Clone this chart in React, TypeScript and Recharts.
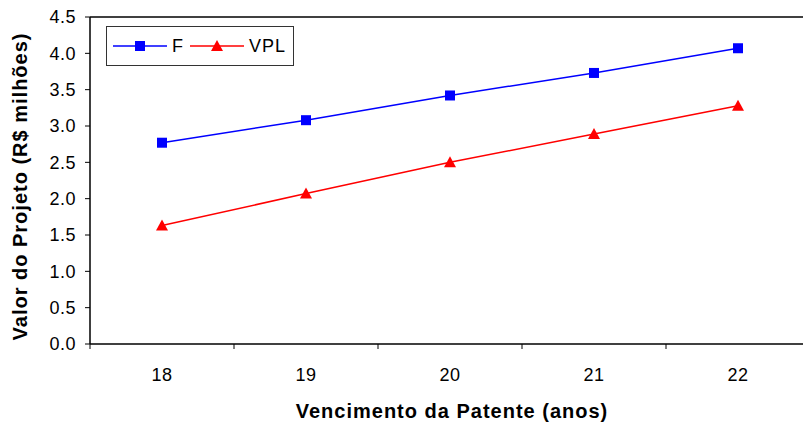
import React from 'react';
import { LineChart, Line, XAxis, YAxis, ReferenceLine } from 'recharts';

// Vencimento da patente (anos) e valores do projeto (R$ milhões)
const anos = [18, 19, 20, 21, 22];
const valoresF = [2.77, 3.08, 3.42, 3.73, 4.07];
const valoresVPL = [1.63, 2.07, 2.5, 2.89, 3.28];
const yTicks = [0, 0.5, 1, 1.5, 2, 2.5, 3, 3.5, 4, 4.5];
// labels at the whole years, tick marks halfway between them
const xTicks = [17.5, 18, 18.5, 19, 19.5, 20, 20.5, 21, 21.5, 22, 22.5];

const series = [
    { key: 'F', color: '#0000ff', shape: 'square' },
    { key: 'VPL', color: '#ff0000', shape: 'triangle' },
];

const data = anos.map((ano, i) => ({ ano, F: valoresF[i], VPL: valoresVPL[i] }));

const font = '"Liberation Sans", Arial, sans-serif';

const Marker = ({ cx, cy, shape, color }: any) => {
    if (cx == null || cy == null) return null;
    if (shape === 'square') {
        return <rect x={cx - 5} y={cy - 5} width={10} height={10} fill={color} />;
    }
    return <polygon points={`${cx},${cy - 6} ${cx + 6},${cy + 5} ${cx - 6},${cy + 5}`} fill={color} />;
};

const XTick = ({ x, y, payload }: any) => {
    const v = payload.value;
    if (Number.isInteger(v)) {
        return (
            <text x={x} y={y + 32} textAnchor="middle" fontSize={18} fontFamily={font} fill="#000" letterSpacing={0.5}>
                {v}
            </text>
        );
    }
    return <line x1={x} x2={x} y1={y - 5} y2={y} stroke="#000" strokeWidth={1} />;
};

const XLabel = ({ viewBox }: any) => (
    <text
        x={viewBox.x + viewBox.width / 2 + 2}
        y={418}
        textAnchor="middle"
        fontSize={20}
        fontWeight="bold"
        fontFamily={font}
        fill="#000"
        letterSpacing={1}
    >
        Vencimento da Patente (anos)
    </text>
);

const YLabel = ({ viewBox }: any) => {
    const cx = viewBox.x + 20;
    const cy = viewBox.y + viewBox.height / 2 + 6;
    return (
        <text
            x={cx}
            y={cy}
            transform={`rotate(-90 ${cx} ${cy})`}
            textAnchor="middle"
            dominantBaseline="central"
            fontSize={20}
            fontWeight="bold"
            fontFamily={font}
            fill="#000"
            letterSpacing={1}
        >
            Valor do Projeto (R$ milhões)
        </text>
    );
};

const LegendBox = () => (
    <div
        style={{
            position: 'absolute',
            left: 106,
            top: 26,
            width: 186,
            height: 38,
            border: '1px solid #333',
            background: '#fff',
            display: 'flex',
            alignItems: 'center',
            fontFamily: font,
            fontSize: 18,
            boxSizing: 'content-box',
        }}
    >
        {series.map((s) => (
            <div key={s.key} style={{ display: 'flex', alignItems: 'center', marginLeft: 6 }}>
                <svg width={54} height={14}>
                    <line x1={0} x2={54} y1={7} y2={7} stroke={s.color} strokeWidth={1.5} />
                    <Marker cx={27} cy={7} shape={s.shape} color={s.color} />
                </svg>
                <span style={{ marginLeft: 5, letterSpacing: 1 }}>{s.key}</span>
            </div>
        ))}
    </div>
);

export default function App() {
    return (
        <div style={{ position: 'relative', width: 803, height: 425, overflow: 'hidden', background: '#fff' }}>
            <style>{'body { margin: 0; }'}</style>
            <LineChart width={810} height={425} data={data} margin={{ top: 17, right: 0, bottom: 0, left: 0 }}>
                <XAxis
                    dataKey="ano"
                    type="number"
                    domain={[17.5, 22.5]}
                    ticks={xTicks}
                    interval={0}
                    height={81}
                    tickSize={5}
                    tickMargin={0}
                    tickLine={false}
                    tick={<XTick />}
                    axisLine={{ stroke: '#000', strokeWidth: 1.5 }}
                    label={<XLabel />}
                />
                <YAxis
                    domain={[0, 4.5]}
                    ticks={yTicks}
                    interval={0}
                    width={90}
                    tickSize={5}
                    tickMargin={9}
                    tickFormatter={(v: number) => v.toFixed(1)}
                    tick={{ fontSize: 18, fontFamily: font, fill: '#000', letterSpacing: 0.5 }}
                    tickLine={{ stroke: '#000' }}
                    axisLine={{ stroke: '#000', strokeWidth: 1.5 }}
                    label={<YLabel />}
                />
                <ReferenceLine y={4.5} stroke="#000" strokeWidth={1.5} />
                {series.map((s) => (
                    <Line
                        key={s.key}
                        dataKey={s.key}
                        stroke={s.color}
                        strokeWidth={1.5}
                        isAnimationActive={false}
                        dot={(p: any) => <Marker key={p.index} cx={p.cx} cy={p.cy} shape={s.shape} color={s.color} />}
                        activeDot={false}
                    />
                ))}
            </LineChart>
            <LegendBox />
        </div>
    );
}
